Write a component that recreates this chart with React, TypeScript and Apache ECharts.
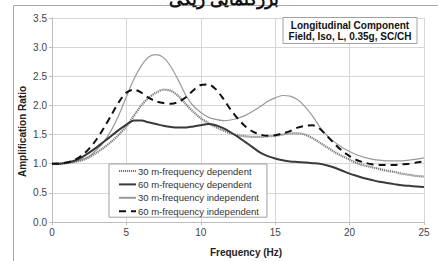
import React, { useEffect, useRef } from "react";
import * as echarts from "echarts";

const freq = [
  0, 0.5, 1, 1.5, 2, 2.5, 3, 3.5, 4, 4.5, 5, 5.5, 6, 6.5, 7, 7.5, 8, 8.5, 9, 9.5,
  10, 10.5, 11, 11.5, 12, 12.5, 13, 13.5, 14, 14.5, 15, 15.5, 16, 16.5, 17, 17.5,
  18, 18.5, 19, 19.5, 20, 20.5, 21, 21.5, 22, 22.5, 23, 23.5, 24, 24.5, 25,
];

const thirtyDependent = [
  1.0, 1.0, 1.01, 1.03, 1.06, 1.11, 1.19, 1.28, 1.38, 1.5, 1.64, 1.82, 2.0, 2.13, 2.22, 2.27, 2.25, 2.16, 2.02, 1.89,
  1.78, 1.7, 1.63, 1.57, 1.52, 1.49, 1.47, 1.46, 1.46, 1.47, 1.48, 1.5, 1.52, 1.52, 1.5, 1.44,
  1.36, 1.28, 1.2, 1.13, 1.07, 1.01, 0.97, 0.94, 0.91, 0.88, 0.86, 0.83, 0.81, 0.79, 0.78,
];

const sixtyDependent = [
  1.0, 1.0, 1.02, 1.05, 1.11, 1.19, 1.28, 1.38, 1.48, 1.58, 1.67, 1.74, 1.74, 1.71, 1.68, 1.65, 1.63, 1.62, 1.62, 1.64,
  1.66, 1.68, 1.66, 1.61, 1.54, 1.46, 1.37, 1.28, 1.19, 1.13, 1.09, 1.06, 1.04, 1.03, 1.02, 1.01,
  1.0, 0.97, 0.93, 0.88, 0.83, 0.79, 0.75, 0.72, 0.69, 0.67, 0.65, 0.63, 0.62, 0.61, 0.6,
];

const thirtyIndependent = [
  1.0, 1.0, 1.01, 1.03, 1.07, 1.13, 1.24, 1.38, 1.58, 1.84, 2.15, 2.45, 2.68, 2.83, 2.87, 2.82, 2.66, 2.43, 2.17, 1.99,
  1.88, 1.8, 1.76, 1.74, 1.75, 1.78, 1.83, 1.9, 1.98, 2.07, 2.13, 2.17, 2.16, 2.1, 1.98, 1.82,
  1.63, 1.48, 1.37, 1.28, 1.21, 1.15, 1.11, 1.08, 1.06, 1.05, 1.05, 1.05, 1.06, 1.08, 1.1,
];

const sixtyIndependent = [
  1.0, 1.0, 1.02, 1.06, 1.14, 1.26, 1.42, 1.62, 1.84, 2.06, 2.22, 2.27, 2.22, 2.13, 2.07, 2.04, 2.03, 2.06, 2.14, 2.26,
  2.35, 2.36, 2.28, 2.12, 1.93, 1.77, 1.64, 1.55, 1.5, 1.48, 1.49, 1.52, 1.56, 1.62, 1.65, 1.66,
  1.6, 1.47, 1.34, 1.22, 1.13, 1.06, 1.02, 0.99, 0.98, 0.98, 0.98, 0.99, 1.0, 1.02, 1.04,
];

const seriesNames = [
  "30 m-frequency dependent",
  "60 m-frequency dependent",
  "30 m-frequency independent",
  "60 m-frequency independent",
];

const titleLines = ["Longitudinal Component", "Field, Iso, L, 0.35g, SC/CH"];
const xAxisTitle = "Frequency (Hz)";
const yAxisTitle = "Amplification Ratio";
const topCaption = "بزرگنمایی ریگی";

const FONT = "'Liberation Sans', Arial, sans-serif";

function pairs(values: number[]) {
  return freq.map((f, i) => [f, values[i]]);
}

export default function App() {
  const ref = useRef<HTMLDivElement>(null);

  useEffect(() => {
    if (!ref.current) return;
    const chart = echarts.init(ref.current, undefined, { renderer: "svg" });
    chart.setOption({
      animation: false,
      backgroundColor: "#ffffff",
      textStyle: { fontFamily: FONT },
      grid: { left: 52, right: 14, top: 18, bottom: 39, containLabel: false },
      xAxis: {
        type: "value",
        min: 0,
        max: 25,
        interval: 5,
        axisLine: { show: true, lineStyle: { color: "#bdbdbd", width: 1 } },
        axisTick: { show: true, length: 3, lineStyle: { color: "#bdbdbd" } },
        axisLabel: { color: "#444", fontSize: 10, fontFamily: FONT, margin: 5 },
        splitLine: { show: true, lineStyle: { color: "#d6d6d6", width: 1 } },
      },
      yAxis: {
        type: "value",
        min: 0,
        max: 3.5,
        interval: 0.5,
        axisLine: { show: true, lineStyle: { color: "#bdbdbd", width: 1 } },
        axisTick: { show: true, length: 3, lineStyle: { color: "#bdbdbd" } },
        axisLabel: {
          color: "#444",
          fontSize: 10,
          fontFamily: FONT,
          margin: 5,
          formatter: (v: number) => v.toFixed(1),
        },
        splitLine: { show: true, lineStyle: { color: "#d6d6d6", width: 1 } },
      },
      legend: {
        orient: "vertical",
        left: 109,
        top: 164,
        width: 159,
        backgroundColor: "#ffffff",
        borderColor: "#a0a0a0",
        borderWidth: 1,
        padding: [2, 8, 1, 9],
        itemGap: 3.4,
        itemWidth: 17,
        itemHeight: 10,
        itemStyle: { opacity: 0 },
        textStyle: { fontSize: 9.5, color: "#333", fontFamily: FONT, padding: [0, 0, 0, -3] },
        data: seriesNames,
      },
      series: [
        {
          name: seriesNames[0],
          type: "line",
          smooth: 0.3,
          symbol: "none",
          data: pairs(thirtyDependent),
          lineStyle: { color: "#7a7a7a", width: 2.2, type: [1.2, 0.8] },
          itemStyle: { color: "#7a7a7a" },
          z: 3,
        },
        {
          name: seriesNames[1],
          type: "line",
          smooth: 0.3,
          symbol: "none",
          data: pairs(sixtyDependent),
          lineStyle: { color: "#3a3a3a", width: 2 },
          itemStyle: { color: "#3a3a3a" },
          z: 4,
        },
        {
          name: seriesNames[2],
          type: "line",
          smooth: 0.3,
          symbol: "none",
          data: pairs(thirtyIndependent),
          lineStyle: { color: "#9a9a9a", width: 1.2 },
          itemStyle: { color: "#9a9a9a" },
          z: 2,
        },
        {
          name: seriesNames[3],
          type: "line",
          smooth: 0.3,
          symbol: "none",
          data: pairs(sixtyIndependent),
          lineStyle: { color: "#111", width: 2, type: [7, 5] },
          itemStyle: { color: "#111" },
          z: 5,
        },
      ],
      graphic: [
        { type: "line", shape: { x1: 13.5, y1: 5.5, x2: 438, y2: 5.5 }, style: { stroke: "#a8a8a8", lineWidth: 1 }, silent: true },
        { type: "line", shape: { x1: 13.5, y1: 5.5, x2: 13.5, y2: 261 }, style: { stroke: "#a8a8a8", lineWidth: 1 }, silent: true },
        {
          type: "text",
          x: 224,
          y: 7,
          style: {
            text: topCaption,
            fill: "#111",
            font: "bold 17px 'Noto Sans', sans-serif",
            textAlign: "center",
            textVerticalAlign: "bottom",
          },
          silent: true,
        },
        {
          type: "rect",
          shape: { x: 283, y: 17.5, width: 134, height: 26 },
          style: { fill: "#ffffff", stroke: "#a0a0a0", lineWidth: 1 },
          z: 10,
          silent: true,
        },
        {
          type: "text",
          x: 350,
          y: 25,
          style: { text: titleLines[0], fill: "#111", font: `bold 10px ${FONT}`, textAlign: "center", textVerticalAlign: "middle" },
          z: 11,
          silent: true,
        },
        {
          type: "text",
          x: 350,
          y: 36.5,
          style: { text: titleLines[1], fill: "#111", font: `bold 10px ${FONT}`, textAlign: "center", textVerticalAlign: "middle" },
          z: 11,
          silent: true,
        },
        {
          type: "text",
          x: 246,
          y: 252,
          style: { text: xAxisTitle, fill: "#222", font: `bold 10px ${FONT}`, textAlign: "center", textVerticalAlign: "middle" },
          silent: true,
        },
        {
          type: "text",
          x: 22,
          y: 131.5,
          rotation: Math.PI / 2,
          style: { text: yAxisTitle, fill: "#222", font: `bold 10px ${FONT}`, textAlign: "center", textVerticalAlign: "middle" },
          silent: true,
        },
      ],
    });
    return () => chart.dispose();
  }, []);

  return <div ref={ref} style={{ width: 438, height: 261, position: "absolute", left: 0, top: 0 }} />;
}
